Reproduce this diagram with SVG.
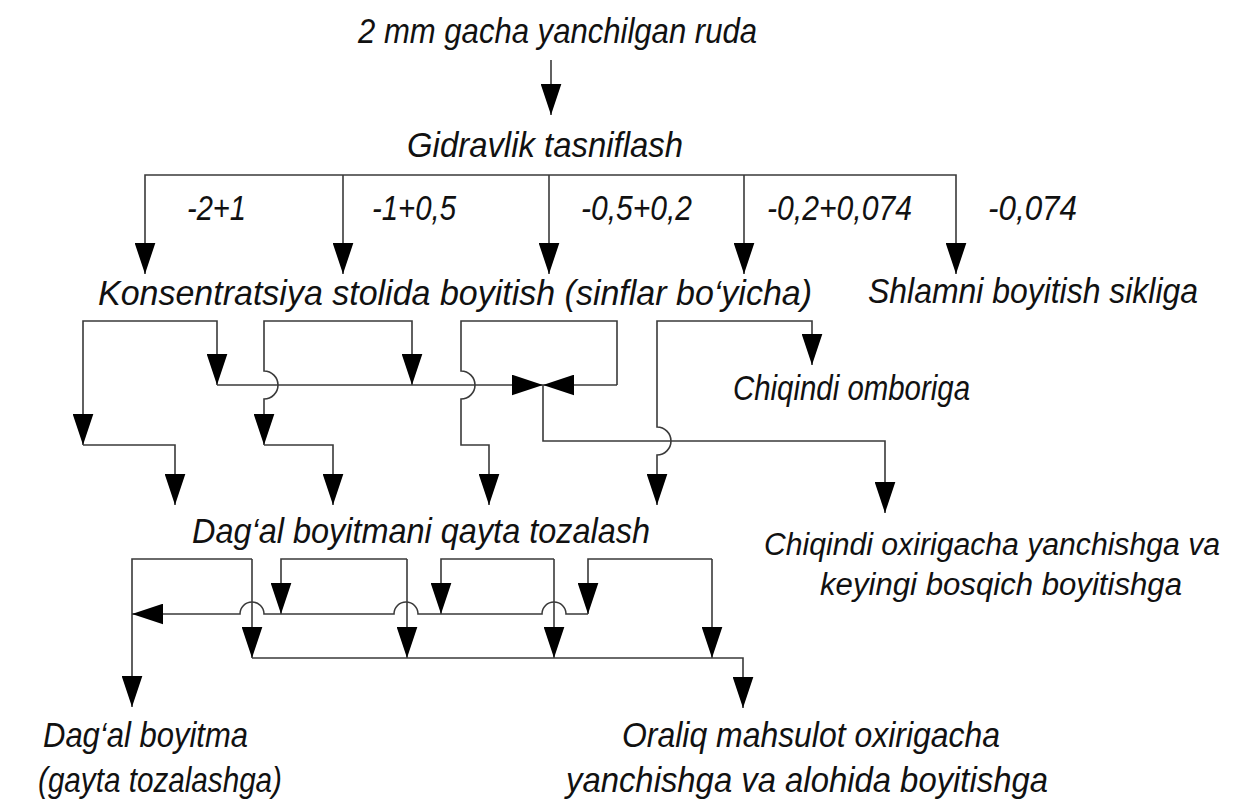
<svg xmlns="http://www.w3.org/2000/svg" width="1237" height="803" viewBox="0 0 1237 803">
<style>
.t{font-family:"Liberation Sans",Arial,sans-serif;font-style:italic;font-size:35px;fill:#111}
.s{font-size:31px}
.c{fill:none;stroke:#3a3a3a;stroke-width:1.6}
.a{marker-end:url(#ar)}
.b{marker-start:url(#ar);marker-end:url(#ar)}
</style>
<defs>
<marker id="ar" markerUnits="userSpaceOnUse" markerWidth="31" markerHeight="21" viewBox="0 0 30 20" refX="30" refY="10" orient="auto-start-reverse">
<path d="M0,0 L30,10 L0,20 Z" fill="#000"/>
</marker>
</defs>
<rect width="1237" height="803" fill="#fff"/>
<g id="connectors">
<path class="c a" d="M551,60 V115"/>
<path class="c b" d="M145,274 V175 H956 V274"/>
<path class="c a" d="M343,175 V274"/>
<path class="c a" d="M549,175 V274"/>
<path class="c a" d="M744,175 V274"/>
<path class="c b" d="M83,445 V321 H217 V385"/>
<path class="c a" d="M83,445 H175 V505"/>
<path class="c b" d="M264,445 V399 A14,14 0 0 0 264,371 V321 H412 V385"/>
<path class="c a" d="M264,445 H333 V505"/>
<path class="c a" d="M617,385 V321 H461 V371 A14,14 0 0 1 461,399 V445 H489 V505"/>
<path class="c b" d="M657,505 V455 A14,14 0 0 0 657,427 V321 H812 V365"/>
<path class="c a" d="M217,385 H543"/>
<path class="c a" d="M617,385 H543"/>
<path class="c a" d="M543,385 V441 H885 V513"/>
<path class="c a" d="M252,559 H132 V707"/>
<path class="c a" d="M252,559 V658"/>
<path class="c a" d="M407,559 H281 V614"/>
<path class="c a" d="M407,559 V658"/>
<path class="c a" d="M554,559 H441 V614"/>
<path class="c a" d="M554,559 V658"/>
<path class="c a" d="M712,559 H588 V614"/>
<path class="c a" d="M712,559 V658"/>
<path class="c a" d="M588,614 H566 A12,12 0 0 0 542,614 H418 A12,12 0 0 0 394,614 H264 A12,12 0 0 0 240,614 H132"/>
<path class="c a" d="M252,658 H743 V708"/>
</g>
<g id="fraction-labels">
<text class="t" x="187" y="220" textLength="59" lengthAdjust="spacingAndGlyphs">-2+1</text>
<text class="t" x="372" y="220" textLength="84" lengthAdjust="spacingAndGlyphs">-1+0,5</text>
<text class="t" x="581" y="220" textLength="111" lengthAdjust="spacingAndGlyphs">-0,5+0,2</text>
<text class="t" x="767" y="220" textLength="145" lengthAdjust="spacingAndGlyphs">-0,2+0,074</text>
<text class="t" x="988" y="220" textLength="89" lengthAdjust="spacingAndGlyphs">-0,074</text>
</g>
<g id="n_ruda"><text class="t" x="358" y="43" textLength="399" lengthAdjust="spacingAndGlyphs">2 mm gacha yanchilgan ruda</text></g>
<g id="n_gidravlik"><text class="t" x="407" y="157" textLength="276" lengthAdjust="spacingAndGlyphs">Gidravlik tasniflash</text></g>
<g id="n_konsentratsiya"><text class="t" x="98" y="305" textLength="714" lengthAdjust="spacingAndGlyphs">Konsentratsiya stolida boyitish (sinflar bo‘yicha)</text></g>
<g id="n_shlam"><text class="t" x="868" y="303" textLength="330" lengthAdjust="spacingAndGlyphs">Shlamni boyitish sikliga</text></g>
<g id="n_chiqindi_ombor"><text class="t" x="733" y="400" textLength="237" lengthAdjust="spacingAndGlyphs">Chiqindi omboriga</text></g>
<g id="n_dagal_qayta"><text class="t" x="192" y="543" textLength="458" lengthAdjust="spacingAndGlyphs">Dag‘al boyitmani qayta tozalash</text></g>
<g id="n_chiqindi_oxir">
<text class="t s" x="764" y="555" textLength="456" lengthAdjust="spacingAndGlyphs">Chiqindi oxirigacha yanchishga va</text>
<text class="t s" x="820" y="595" textLength="362" lengthAdjust="spacingAndGlyphs">keyingi bosqich boyitishga</text>
</g>
<g id="n_dagal_boyitma">
<text class="t" x="43" y="747" textLength="205" lengthAdjust="spacingAndGlyphs">Dag‘al boyitma</text>
<text class="t" x="38" y="792" textLength="244" lengthAdjust="spacingAndGlyphs">(gayta tozalashga)</text>
</g>
<g id="n_oraliq">
<text class="t" x="622" y="747" textLength="378" lengthAdjust="spacingAndGlyphs">Oraliq mahsulot oxirigacha</text>
<text class="t" x="566" y="792" textLength="482" lengthAdjust="spacingAndGlyphs">yanchishga va alohida boyitishga</text>
</g>
</svg>
